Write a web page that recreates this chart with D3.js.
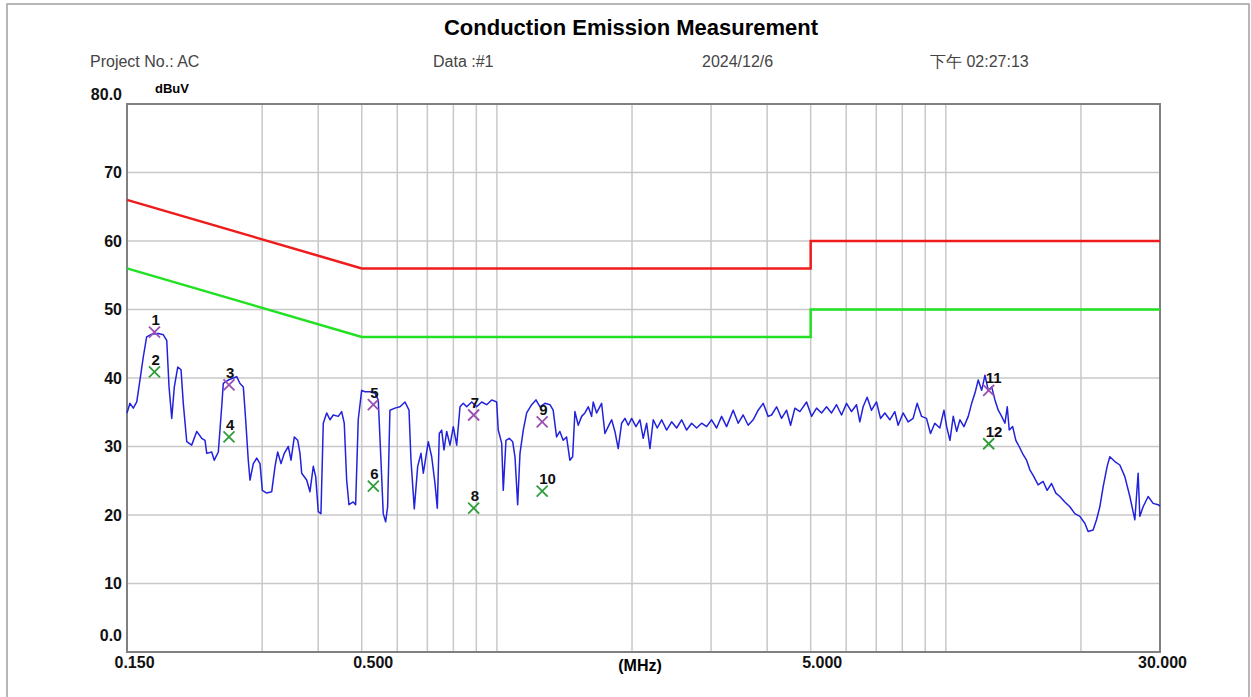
<!DOCTYPE html>
<html lang="en">
<head>
    <meta charset="UTF-8">
    <title>Conduction Emission Measurement</title>
    <style>
body {
    margin: 0;
    background-color: white;
    font-family: "Liberation Sans", Arial, sans-serif;
}

.grid line {
    stroke: #c8c8c8;
    stroke-width: 1.5px;
}

.axis text {
    font-size: 16px;
    font-weight: bold;
    fill: #111;
}

.axis path {
    display: none;
}

.head {
    font-size: 16px;
    fill: #444;
}

.mark-label {
    font-size: 15px;
    font-weight: bold;
    fill: #111;
}
    </style>
</head>
<body>
    <svg id="chart"></svg>
    <script src="https://d3js.org/d3.v7.min.js"></script>
    <script>
// header texts
const headerTexts = ["Project No.: AC", "Data :#1", "2024/12/6", "下午 02:27:13"];

// axes
const yTicks = [0, 10, 20, 30, 40, 50, 60, 70, 80];
const xTicks = [0.15, 0.5, 5, 30];
const xGrid = [0.3, 0.4, 0.5, 0.6, 0.7, 0.8, 0.9, 1, 2, 3, 4, 5, 6, 7, 8, 9, 10, 20];

// limit lines (QP red, AV green)
const qpFreq = [0.15, 0.5, 5, 5, 30];
const qpLevel = [66, 56, 56, 60, 60];
const avFreq = [0.15, 0.5, 5, 5, 30];
const avLevel = [56, 46, 46, 50, 50];

const traceFreq = [
    0.150, 0.1523, 0.1549, 0.1577, 0.1603, 0.1631, 0.1659, 0.1703, 0.1761, 0.1807,
    0.1839, 0.1861, 0.1887, 0.1912, 0.1946, 0.1979, 0.2002, 0.2038, 0.2090, 0.2145,
    0.2200, 0.2238, 0.2258, 0.2316, 0.2347, 0.2396, 0.2438, 0.2458, 0.2522, 0.2587,
    0.2633, 0.2678, 0.2724, 0.2757, 0.2794, 0.2819, 0.2867, 0.2918, 0.2967, 0.3003,
    0.3071, 0.3151, 0.3205, 0.3249, 0.3305, 0.3361, 0.3431, 0.3479, 0.3538, 0.3601,
    0.3643, 0.3675, 0.3770, 0.3834, 0.3900, 0.3948, 0.4001, 0.4056, 0.4105, 0.4177,
    0.4248, 0.4321, 0.4433, 0.4511, 0.4571, 0.4628, 0.4683, 0.4787, 0.4846, 0.4911,
    0.4998, 0.5083, 0.5215, 0.5350, 0.5442, 0.5518, 0.5583, 0.5652, 0.5710, 0.5778,
    0.5928, 0.6084, 0.6242, 0.6372, 0.6437, 0.6547, 0.6662, 0.6776, 0.6857, 0.7034,
    0.7158, 0.7280, 0.7367, 0.7443, 0.7535, 0.7624, 0.7731, 0.7863, 0.7997, 0.8138,
    0.8277, 0.8418, 0.8566, 0.8788, 0.9016, 0.9250, 0.9490, 0.9737, 0.9989, 1.0071,
    1.0249, 1.0333, 1.0478, 1.0657, 1.0844, 1.0973, 1.1126, 1.1258, 1.1450, 1.1651,
    1.1954, 1.2220, 1.2474, 1.2798, 1.3130, 1.3347, 1.3582, 1.3813, 1.4049, 1.4296,
    1.4540, 1.4749, 1.4923, 1.5179, 1.5446, 1.5708, 1.5978, 1.6256, 1.6390, 1.6679,
    1.7112, 1.7405, 1.7702, 1.8014, 1.8321, 1.8633, 1.8962, 1.9286, 1.9616, 1.9961,
    2.0406, 2.0829, 2.1185, 2.1557, 2.1926, 2.2301, 2.2763, 2.3282, 2.3886, 2.4506,
    2.5143, 2.5796, 2.6465, 2.7152, 2.7857, 2.8580, 2.9321, 3.0083, 3.0863, 3.1665,
    3.2486, 3.3605, 3.4478, 3.5370, 3.6290, 3.7232, 3.8198, 3.9189, 4.0206, 4.0914,
    4.1985, 4.3073, 4.4190, 4.5105, 4.6112, 4.7309, 4.8962, 5.0231, 5.1536, 5.2872,
    5.4245, 5.5653, 5.7096, 5.8578, 6.0099, 6.1658, 6.3258, 6.4338, 6.5438, 6.6794,
    6.8319, 7.0089, 7.1543, 7.3137, 7.5041, 7.6991, 7.8306, 8.0336, 8.2424, 8.4563,
    8.6316, 8.8284, 9.0578, 9.2454, 9.4514, 9.6969, 9.9054, 10.043, 10.215, 10.389,
    10.572, 10.752, 10.976, 11.220, 11.418, 11.613, 11.811, 12.019, 12.224, 12.432,
    12.651, 12.867, 13.087, 13.317, 13.545, 13.705, 13.846, 14.090, 14.323, 14.568,
    14.870, 15.132, 15.390, 15.708, 16.059, 16.476, 16.817, 17.200, 17.584, 17.949,
    18.415, 18.894, 19.383, 19.887, 20.403, 20.751, 21.289, 21.664, 22.035, 22.411,
    22.876, 23.195, 23.797, 24.414, 25.050, 25.701, 26.368, 26.818, 27.052, 27.514,
    28.228, 28.960, 29.712, 30.000
];
const traceLevel = [
    34.9, 36.3, 35.6, 36.5, 39.7, 43.1, 46.0, 46.4, 46.5, 46.3,
    45.5, 38.7, 34.1, 38.7, 41.6, 41.2, 36.3, 30.7, 30.2, 32.2,
    31.2, 30.9, 29.0, 29.2, 28.0, 29.2, 35.8, 39.2, 39.7, 40.0,
    40.2, 39.2, 38.7, 33.9, 28.0, 25.1, 27.5, 28.3, 27.5, 23.6,
    23.2, 23.4, 27.1, 29.2, 27.5, 29.0, 30.0, 28.0, 31.4, 30.9,
    29.0, 26.1, 25.1, 23.4, 27.1, 25.6, 20.5, 20.2, 33.4, 34.9,
    33.9, 34.6, 34.4, 35.1, 33.4, 25.1, 21.5, 21.9, 21.5, 33.9,
    38.2, 38.0, 38.0, 37.8, 36.8, 28.0, 20.2, 19.0, 21.2, 35.3,
    35.6, 35.8, 36.5, 35.3, 28.0, 20.9, 27.1, 29.0, 26.1, 30.7,
    28.5, 24.6, 21.0, 31.9, 32.4, 29.5, 32.2, 30.2, 32.9, 30.2,
    35.8, 36.3, 35.8, 36.5, 35.8, 36.5, 36.1, 36.8, 36.5, 32.4,
    30.5, 23.6, 30.9, 31.2, 30.7, 28.5, 21.5, 29.0, 32.4, 34.9,
    36.1, 36.8, 35.8, 36.3, 36.1, 35.3, 31.4, 32.2, 30.9, 31.4,
    28.0, 28.5, 35.1, 33.1, 34.4, 34.9, 35.8, 34.4, 36.5, 34.9,
    36.3, 31.9, 32.9, 33.9, 32.2, 29.7, 33.4, 34.1, 33.1, 34.1,
    32.9, 33.9, 31.2, 33.4, 29.7, 33.9, 32.7, 33.9, 32.4, 33.6,
    32.7, 33.9, 32.4, 33.4, 32.7, 33.4, 32.9, 33.9, 32.7, 34.4,
    32.9, 35.3, 33.4, 34.6, 33.1, 33.9, 35.3, 36.3, 34.4, 34.6,
    35.8, 34.1, 35.3, 33.1, 35.6, 35.1, 36.5, 34.4, 35.6, 34.9,
    35.8, 34.9, 36.1, 34.6, 36.3, 35.1, 36.1, 33.6, 35.8, 37.2,
    35.3, 36.5, 34.1, 34.9, 33.9, 35.1, 33.1, 34.9, 33.6, 34.1,
    36.3, 34.4, 34.1, 31.9, 33.4, 32.7, 35.3, 32.9, 30.9, 34.4,
    32.2, 33.9, 32.9, 34.4, 36.3, 37.8, 39.7, 38.2, 40.4, 38.2,
    38.7, 36.8, 35.3, 34.4, 33.4, 35.8, 32.4, 32.9, 30.9, 30.0,
    28.8, 28.0, 26.6, 25.6, 24.4, 24.9, 23.6, 24.6, 23.2, 22.7,
    21.9, 21.2, 20.2, 19.8, 18.8, 17.6, 17.8, 19.3, 21.2, 24.1,
    27.1, 28.5, 27.8, 27.3, 25.6, 22.7, 19.3, 26.1, 19.8, 21.2,
    22.7, 21.7, 21.5, 21.3
];

// marker readings
const markerNo = [1, 2, 3, 4, 5, 6, 7, 8, 9, 10, 11, 12];
const markerFreq = [0.1727, 0.1727, 0.2531, 0.2531, 0.5306, 0.5306, 0.8878, 0.8878, 1.2615, 1.2615, 12.46, 12.46];
const markerLevel = [46.7, 40.9, 39.0, 31.4, 36.1, 24.2, 34.6, 21.0, 33.6, 23.5, 38.2, 30.4];

const width = 1251;
const height = 697;
const margin = { left: 127, right: 91, top: 104, bottom: 45 };

const svg = d3.select("#chart")
    .attr("width", width)
    .attr("height", height);

// outer frame
svg.append("rect")
    .attr("x", 7).attr("y", 4)
    .attr("width", 1242).attr("height", 710)
    .attr("fill", "white")
    .attr("stroke", "#a0a0a0")
    .attr("stroke-width", 1.5);

const x = d3.scaleLog()
    .domain([0.15, 30])
    .range([margin.left, width - margin.right]);

const y = d3.scaleLinear()
    .domain([0, 80])
    .range([height - margin.bottom, margin.top]);

// title + header line
svg.append("text")
    .attr("x", 631).attr("y", 35)
    .attr("text-anchor", "middle")
    .style("font-size", "22px")
    .style("font-weight", "bold")
    .text("Conduction Emission Measurement");

const headerX = [90, 433, 702, 930];
svg.selectAll(".head")
    .data(headerTexts)
    .enter().append("text")
    .attr("class", "head")
    .attr("x", (d, i) => headerX[i])
    .attr("y", 67)
    .text(d => d);

svg.append("text")
    .attr("x", 155).attr("y", 93)
    .style("font-size", "13px")
    .style("font-weight", "bold")
    .text("dBuV");

// grid
const grid = svg.append("g").attr("class", "grid");
grid.selectAll(".gx")
    .data(xGrid)
    .enter().append("line")
    .attr("x1", d => x(d)).attr("x2", d => x(d))
    .attr("y1", y(80)).attr("y2", y(0));
grid.selectAll(".gy")
    .data(yTicks.slice(1, -1))
    .enter().append("line")
    .attr("x1", x(0.15)).attr("x2", x(30))
    .attr("y1", d => y(d)).attr("y2", d => y(d));

// axes
const yAxis = svg.append("g")
    .attr("class", "axis")
    .attr("transform", `translate(${margin.left},0)`)
    .call(d3.axisLeft(y)
        .tickValues(yTicks)
        .tickSize(0)
        .tickPadding(5)
        .tickFormat(d => (d === 0 || d === 80) ? d.toFixed(1) : d));
// end labels sit above their lines
yAxis.selectAll(".tick text")
    .attr("y", d => d === 0 ? -17 : (d === 80 ? -10 : 0));

svg.append("g")
    .attr("class", "axis")
    .attr("transform", `translate(0,${y(0)})`)
    .call(d3.axisBottom(x)
        .tickValues(xTicks)
        .tickSize(0)
        .tickPadding(5)
        .tickFormat(d3.format(".3f")))
    .selectAll(".tick text")
    .attr("dx", d => d === 0.15 ? 7 : (d === 30 ? 2 : 11));

svg.append("text")
    .attr("x", 640).attr("y", 671)
    .attr("text-anchor", "middle")
    .style("font-size", "16px")
    .style("font-weight", "bold")
    .text("(MHz)");

// plot frame
svg.append("rect")
    .attr("x", x(0.15)).attr("y", y(80))
    .attr("width", x(30) - x(0.15))
    .attr("height", y(0) - y(80))
    .attr("fill", "none")
    .attr("stroke", "#808080")
    .attr("stroke-width", 2);

const line = d3.line()
    .x(d => x(d[0]))
    .y(d => y(d[1]));

// limits
svg.append("path")
    .datum(d3.zip(qpFreq, qpLevel))
    .attr("d", line)
    .attr("fill", "none")
    .attr("stroke", "#ee1c1c")
    .attr("stroke-width", 2.5);

svg.append("path")
    .datum(d3.zip(avFreq, avLevel))
    .attr("d", line)
    .attr("fill", "none")
    .attr("stroke", "#22e022")
    .attr("stroke-width", 2.5);

// trace
svg.append("path")
    .datum(d3.zip(traceFreq, traceLevel))
    .attr("d", line)
    .attr("fill", "none")
    .attr("stroke", "#2222dd")
    .attr("stroke-width", 1.5)
    .attr("stroke-linejoin", "round");

// markers
const markers = d3.zip(markerNo, markerFreq, markerLevel);
const mk = svg.append("g")
    .selectAll("g")
    .data(markers)
    .enter().append("g")
    .attr("transform", d => `translate(${x(d[1])},${y(d[2])})`);

mk.append("path")
    .attr("d", "M-5.5,-5.5L5.5,5.5M-5.5,5.5L5.5,-5.5")
    .attr("stroke", d => d[0] % 2 ? "#9b4fb5" : "#2f9e3a")
    .attr("stroke-width", 1.8)
    .attr("fill", "none");

mk.append("text")
    .attr("class", "mark-label")
    .attr("x", -3)
    .attr("y", -7)
    .text(d => d[0]);
    </script>
</body>
</html>
